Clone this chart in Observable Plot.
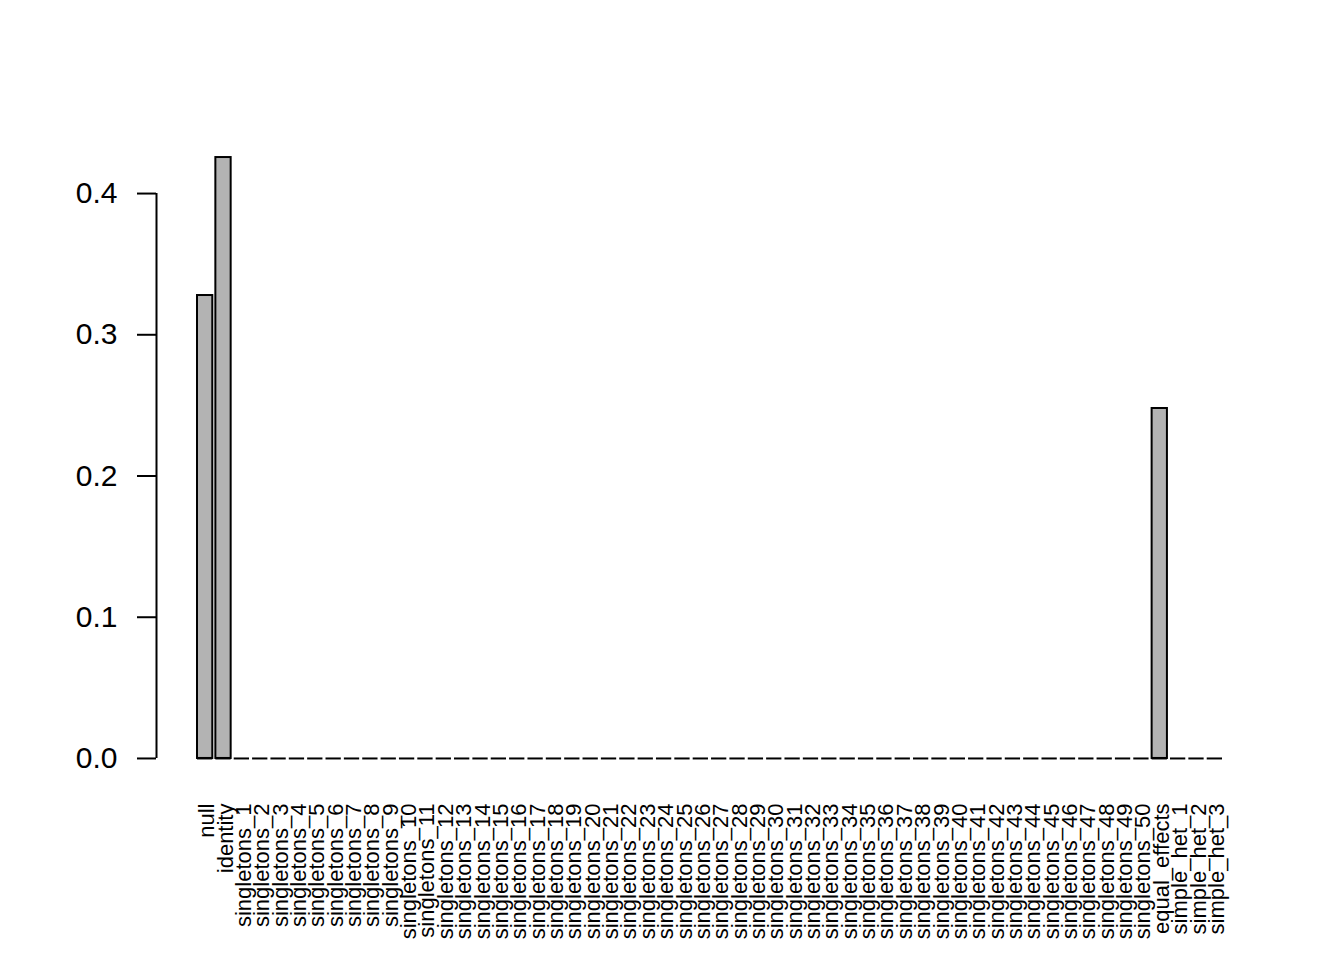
<!DOCTYPE html>
<html><head><meta charset="utf-8">
<script src="https://cdn.jsdelivr.net/npm/d3@7"></script>
<script src="https://cdn.jsdelivr.net/npm/@observablehq/plot@0.6"></script>
<style>html,body{margin:0;padding:0;background:#fff}</style>
</head><body><div id="chart"></div>
<script>
const categories = [
  "null", "identity",
  "singletons_1", "singletons_2", "singletons_3", "singletons_4", "singletons_5",
  "singletons_6", "singletons_7", "singletons_8", "singletons_9", "singletons_10",
  "singletons_11", "singletons_12", "singletons_13", "singletons_14", "singletons_15",
  "singletons_16", "singletons_17", "singletons_18", "singletons_19", "singletons_20",
  "singletons_21", "singletons_22", "singletons_23", "singletons_24", "singletons_25",
  "singletons_26", "singletons_27", "singletons_28", "singletons_29", "singletons_30",
  "singletons_31", "singletons_32", "singletons_33", "singletons_34", "singletons_35",
  "singletons_36", "singletons_37", "singletons_38", "singletons_39", "singletons_40",
  "singletons_41", "singletons_42", "singletons_43", "singletons_44", "singletons_45",
  "singletons_46", "singletons_47", "singletons_48", "singletons_49", "singletons_50",
  "equal_effects", "simple_het_1", "simple_het_2", "simple_het_3"
];
const values = [
  0.3278, 0.4255,
  0, 0, 0, 0, 0, 0, 0, 0, 0, 0,
  0, 0, 0, 0, 0, 0, 0, 0, 0, 0,
  0, 0, 0, 0, 0, 0, 0, 0, 0, 0,
  0, 0, 0, 0, 0, 0, 0, 0, 0, 0,
  0, 0, 0, 0, 0, 0, 0, 0, 0, 0,
  0.2478, 0, 0, 0
];
const yTicks = [0, 0.1, 0.2, 0.3, 0.4];

// R barplot layout: width 1, space 0.2, 4% axis expansion
const space = 0.2, barWidth = 1;
const rows = categories.map((name, i) => ({
  name, value: values[i],
  x1: space + i * (space + barWidth),
  x2: space + i * (space + barWidth) + barWidth
}));
const mids = rows.map(d => (d.x1 + d.x2) / 2);
const nameAt = new Map(mids.map((m, i) => [m, categories[i]]));
const xlo = rows[0].x1, xhi = rows[rows.length - 1].x2;
const xpad = 0.04 * (xhi - xlo);
const ymax = d3.max(values), ypad = 0.04 * ymax;

const plot = Plot.plot({
  width: 1344, height: 960,
  marginLeft: 156, marginRight: 81, marginTop: 133, marginBottom: 178,
  style: {fontFamily: "'Liberation Sans', Arial, Helvetica, sans-serif", background: "#fff", color: "#000"},
  x: {domain: [xlo - xpad, xhi + xpad]},
  y: {domain: [-ypad, ymax + ypad]},
  marks: [
    Plot.rectY(rows, {x1: "x1", x2: "x2", y1: 0, y2: "value", fill: "#b3b3b3", stroke: "#000", strokeWidth: 2}),
    Plot.ruleY(rows, {x1: "x1", x2: "x2", y: 0, stroke: "#000", strokeWidth: 2}),
    Plot.ruleX([xlo - xpad], {y1: yTicks[0], y2: yTicks[yTicks.length - 1], stroke: "#000", strokeWidth: 2}),
    Plot.axisY({ticks: yTicks, tickFormat: d3.format(".1f"), tickSize: 19, tickPadding: 20, fontSize: 30, strokeWidth: 2, label: null}),
    Plot.axisX({ticks: mids, tickFormat: d => nameAt.get(d), tickRotate: -90, tickSize: 0, tickPadding: 21, fontSize: 22, dx: 2, label: null})
  ]
});
document.getElementById("chart").appendChild(plot);
</script>
</body></html>
